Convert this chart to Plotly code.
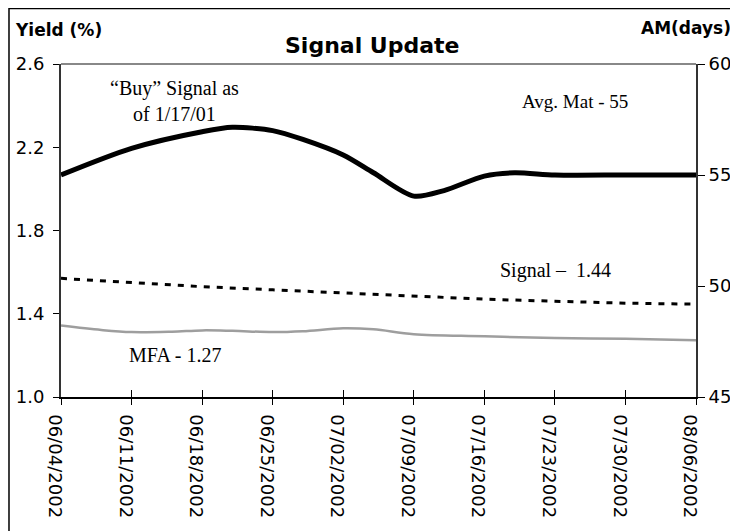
import plotly.graph_objects as go

# ---- data ----
tick_dates = ["2002-06-04", "2002-06-11", "2002-06-18", "2002-06-25", "2002-07-02",
              "2002-07-09", "2002-07-16", "2002-07-23", "2002-07-30", "2002-08-06"]
tick_labels = ["06/04/2002", "06/11/2002", "06/18/2002", "06/25/2002", "07/02/2002",
               "07/09/2002", "07/16/2002", "07/23/2002", "07/30/2002", "08/06/2002"]

am_dates = ["2002-06-04", "2002-06-11", "2002-06-18", "2002-06-21", "2002-06-25",
            "2002-06-28", "2002-07-02", "2002-07-05", "2002-07-09", "2002-07-12",
            "2002-07-16", "2002-07-19", "2002-07-23", "2002-07-30", "2002-08-06"]
am_days = [55.0, 56.2, 56.95, 57.15, 57.0, 56.6, 55.9, 55.1, 54.05, 54.3,
           54.95, 55.1, 55.0, 55.0, 55.0]

signal_dates = tick_dates
signal_yield = [1.57, 1.55, 1.53, 1.515, 1.50, 1.485, 1.47, 1.46, 1.451, 1.446]

mfa_dates = ["2002-06-04", "2002-06-08", "2002-06-11", "2002-06-15", "2002-06-18",
             "2002-06-21", "2002-06-25", "2002-06-28", "2002-07-02", "2002-07-05",
             "2002-07-09", "2002-07-16", "2002-07-23", "2002-07-30", "2002-08-06"]
mfa_yield = [1.343, 1.322, 1.312, 1.314, 1.32, 1.318, 1.312, 1.316, 1.33, 1.325,
             1.302, 1.292, 1.283, 1.28, 1.273]

SANS = "DejaVu Sans"
SERIF = "Liberation Serif"

fig = go.Figure()
fig.add_trace(go.Scatter(x=mfa_dates, y=mfa_yield, mode="lines", yaxis="y",
                         line=dict(color="#9e9e9e", width=2.5, shape="spline", smoothing=1),
                         showlegend=False, hoverinfo="skip"))
fig.add_trace(go.Scatter(x=signal_dates, y=signal_yield, mode="lines", yaxis="y",
                         line=dict(color="black", width=3, dash="6px,7px"),
                         showlegend=False, hoverinfo="skip"))
fig.add_trace(go.Scatter(x=am_dates, y=am_days, mode="lines", yaxis="y2",
                         line=dict(color="black", width=5, shape="spline", smoothing=0.8),
                         showlegend=False, hoverinfo="skip"))
# empty helper trace so the overlaid x axis (inner half of crossing ticks) is drawn
fig.add_trace(go.Scatter(x=[], y=[], xaxis="x2", yaxis="y", showlegend=False))

xrange = ["2002-06-04", "2002-08-06"]
# the page body has an 8px margin, so the figure is 730x523 placed at (8, 8)
fig.update_layout(
    width=730, height=523,
    margin=dict(l=53, r=42, t=56, b=134, autoexpand=False),
    paper_bgcolor="white", plot_bgcolor="white",
    xaxis=dict(type="date", range=xrange, tickvals=tick_dates, ticktext=tick_labels,
               tickangle=90, ticks="outside", ticklen=6, tickcolor="black", tickwidth=1.2,
               ticklabelshift=-6, ticklabelstandoff=6,
               showline=True, linecolor="black", linewidth=1.5, showgrid=False, zeroline=False,
               automargin=False,
               tickfont=dict(family=SANS, size=18, color="black")),
    xaxis2=dict(type="date", range=xrange, tickvals=tick_dates, overlaying="x", anchor="y",
                side="bottom", ticks="inside", ticklen=7, tickcolor="black", tickwidth=1.2,
                showticklabels=False, showline=False, showgrid=False, zeroline=False,
                automargin=False),
    yaxis=dict(range=[1.0, 2.6], tickvals=[1.0, 1.4, 1.8, 2.2, 2.6],
               ticktext=["1.0", "1.4", "1.8", "2.2", "2.6"],
               ticks="outside", ticklen=6, tickcolor="black", tickwidth=1.2,
               ticklabelstandoff=5,
               showline=True, linecolor="#333333", linewidth=2, showgrid=False, zeroline=False,
               automargin=False,
               tickfont=dict(family=SANS, size=18, color="black")),
    yaxis2=dict(range=[45, 60], tickvals=[45, 50, 55, 60], overlaying="y", side="right",
                ticks="outside", ticklen=7, tickcolor="black", tickwidth=1.2,
                showline=True, linecolor="#333333", linewidth=2, showgrid=False, zeroline=False,
                automargin=False,
                tickfont=dict(family=SANS, size=18, color="black")),
    shapes=[
        dict(type="line", xref="paper", yref="paper", x0=0, x1=1, y0=1, y1=1,
             line=dict(color="#888888", width=2)),
        dict(type="rect", xref="paper", yref="paper", x0=-0.0819, x1=1.2, y0=-1.0, y1=1.1667,
             line=dict(color="black", width=1.5), fillcolor="rgba(0,0,0,0)", layer="above"),
    ],
    annotations=[
        dict(text="<b>Signal Update</b>", xref="paper", yref="paper", x=0.49, y=1.057,
             xanchor="center", yanchor="middle", showarrow=False,
             font=dict(family=SANS, size=22, color="black")),
        dict(text="<b>Yield (%)</b>", xref="paper", yref="paper", x=-0.0756, y=1.102,
             xanchor="left", yanchor="middle", showarrow=False,
             font=dict(family=SANS, size=17, color="black")),
        dict(text="<b>AM(days)</b>", xref="paper", yref="paper", x=1.058, y=1.108,
             xanchor="right", yanchor="middle", showarrow=False,
             font=dict(family=SANS, size=17, color="black")),
        dict(text="\u201cBuy\u201d Signal as<br>of 1/17/01", xref="paper", yref="paper",
             x=0.1795, y=0.889, xanchor="center", yanchor="middle", showarrow=False,
             align="center", font=dict(family=SERIF, size=20, color="black")),
        dict(text="Avg. Mat - 55", xref="paper", yref="paper", x=0.809, y=0.886,
             xanchor="center", yanchor="middle", showarrow=False,
             font=dict(family=SERIF, size=19, color="black")),
        dict(text="Signal \u2013\u00a0 1.44", xref="paper", yref="paper", x=0.7795, y=0.381,
             xanchor="center", yanchor="middle", showarrow=False,
             font=dict(family=SERIF, size=20, color="black")),
        dict(text="MFA - 1.27", xref="paper", yref="paper", x=0.1795, y=0.126,
             xanchor="center", yanchor="middle", showarrow=False,
             font=dict(family=SERIF, size=20, color="black")),
    ],
)

fig.write_html("out.html")
